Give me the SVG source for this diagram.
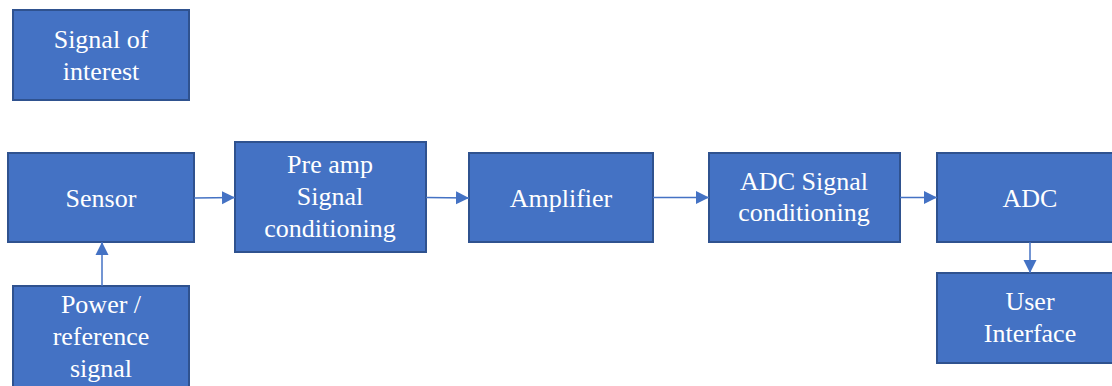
<svg xmlns="http://www.w3.org/2000/svg" width="1112" height="386" viewBox="0 0 1112 386">
  <style>
    .box { fill: #4472C4; stroke: #2F528F; stroke-width: 2; }
    .lbl { fill: #FFFFFF; font-family: "Liberation Serif", "Times New Roman", serif; font-size: 26px; text-anchor: middle; }
    .wire { stroke: #4472C4; stroke-width: 1.5; fill: none; marker-end: url(#head); }
  </style>
  <defs>
    <marker id="head" viewBox="0 0 10 10" refX="10" refY="5" markerUnits="userSpaceOnUse" markerWidth="13" markerHeight="15" orient="auto">
      <path d="M0,0 L10,5 L0,10 Z" fill="#4472C4"/>
    </marker>
  </defs>
  <rect width="1112" height="386" fill="#FFFFFF"/>

  <g id="signal-of-interest">
    <rect class="box" x="13" y="10" width="176" height="90"/>
    <text class="lbl" x="101" y="48">Signal of</text>
    <text class="lbl" x="101" y="80">interest</text>
  </g>

  <g id="sensor">
    <rect class="box" x="8" y="153" width="186" height="89"/>
    <text class="lbl" x="101" y="207">Sensor</text>
  </g>

  <g id="preamp">
    <rect class="box" x="235" y="142" width="191" height="110"/>
    <text class="lbl" x="330" y="173">Pre amp</text>
    <text class="lbl" x="330" y="205">Signal</text>
    <text class="lbl" x="330" y="237">conditioning</text>
  </g>

  <g id="amplifier">
    <rect class="box" x="469" y="153" width="184" height="89"/>
    <text class="lbl" x="561" y="207">Amplifier</text>
  </g>

  <g id="adc-conditioning">
    <rect class="box" x="709" y="153" width="191" height="89"/>
    <text class="lbl" x="804" y="190">ADC Signal</text>
    <text class="lbl" x="804" y="221">conditioning</text>
  </g>

  <g id="adc">
    <rect class="box" x="937" y="153" width="180" height="89"/>
    <text class="lbl" x="1030" y="207">ADC</text>
  </g>

  <g id="user-interface">
    <rect class="box" x="937" y="273" width="180" height="90"/>
    <text class="lbl" x="1030" y="310">User</text>
    <text class="lbl" x="1030" y="342">Interface</text>
  </g>

  <g id="power-reference">
    <rect class="box" x="13" y="286" width="176" height="110"/>
    <text class="lbl" x="101" y="313">Power /</text>
    <text class="lbl" x="101" y="345">reference</text>
    <text class="lbl" x="101" y="377">signal</text>
  </g>

  <g id="connectors">
    <path class="wire" d="M194,198 L235,197.5"/>
    <path class="wire" d="M426,197.5 L469,198"/>
    <path class="wire" d="M653,197.5 L709,197.5"/>
    <path class="wire" d="M900,197.5 L937,197.5"/>
    <path class="wire" d="M1030,242 L1030,273"/>
    <path class="wire" d="M102,286 L102,242"/>
  </g>
</svg>
